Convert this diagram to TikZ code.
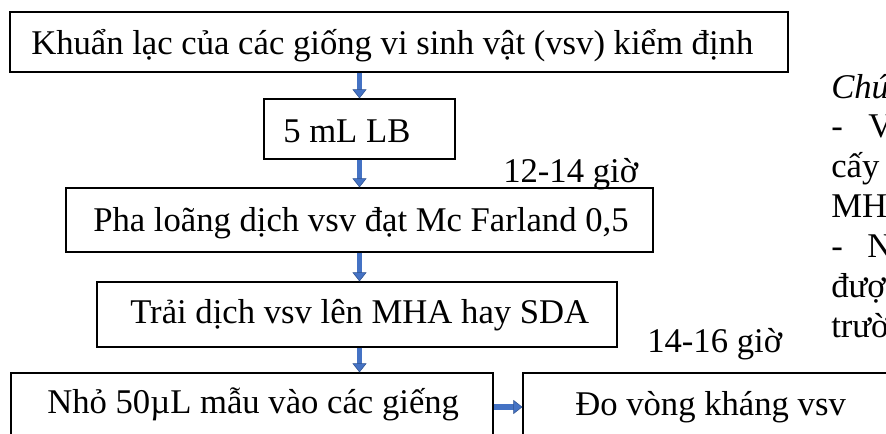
\documentclass[tikz,border=0pt]{standalone}
\usepackage{fontspec}
\setmainfont{Liberation Serif}
\usetikzlibrary{arrows.meta,fit}
\definecolor{arrowblue}{HTML}{4472C4}
\definecolor{arrowedge}{HTML}{2F528F}
\begin{document}
\begin{tikzpicture}[x=0.75pt,y=-0.75pt,
  box/.style={draw=black, line width=0.9pt, inner sep=0pt, rectangle},
  lbl/.style={font=\fontsize{26}{30}\selectfont, inner sep=0pt},
  flowarrow/.style={draw=arrowblue, line width=4.1pt,
    -{Triangle[width=10.5pt,length=6.75pt,fill=arrowblue,color=arrowedge,line width=0.4pt]}}]
\useasboundingbox (0,0) rectangle (886,434);
\clip (0,0) rectangle (886,434);
% boxes
\node[box, fit={(10,12) (788,72)}] (b1) {};
\node[box, fit={(264,99) (455,159)}] (b2) {};
\node[box, fit={(66,188) (653,252)}] (b3) {};
\node[box, fit={(97,282) (617,347)}] (b4) {};
\node[box, fit={(11,373) (493,441)}] (b5) {};
\node[box, fit={(523,373) (905,441)}] (b6) {};
% texts
\node[lbl, anchor=base west] (t1) at (31,55) {Khuẩn lạc của các giống vi sinh vật (vsv) kiểm định};
\node[lbl, anchor=base west] (t2) at (283,143) {5 mL LB};
\node[lbl, anchor=base west] (t3) at (93,232) {Pha loãng dịch vsv đạt Mc Farland 0,5};
\node[lbl, anchor=base west] (t4) at (130,324) {Trải dịch vsv lên MHA hay SDA};
\node[lbl, anchor=base west] (t5) at (47,414) {Nhỏ 50µL mẫu vào các giếng};
\node[lbl, anchor=base west] (t6) at (575,416) {Đo vòng kháng vsv};
\node[lbl, anchor=base west] (l1) at (503,183) {12-14 giờ};
\node[lbl, anchor=base west] (l2) at (647,353) {14-16 giờ};
% note column (clipped at right edge, as in the reference)
\node[lbl, anchor=base west] (n1) at (831,99) {\textit{Chú}};
\node[lbl, anchor=base west] (n2a) at (831,138) {-};
\node[lbl, anchor=base west] (n2b) at (868,138) {V};
\node[lbl, anchor=base west] (n3) at (831,178) {cấy};
\node[lbl, anchor=base west] (n4) at (831,218) {MH};
\node[lbl, anchor=base west] (n5a) at (831,258) {-};
\node[lbl, anchor=base west] (n5b) at (867,258) {N};
\node[lbl, anchor=base west] (n6) at (831,298) {đượ};
\node[lbl, anchor=base west] (n7) at (831,338) {trườ};
% arrows
\draw[flowarrow] (b1.south -| b2.north) -- (b2.north);
\draw[flowarrow] (b2.south) -- (b2.south |- b3.north);
\draw[flowarrow] (b3.south) -- (b3.south |- b4.north);
\draw[flowarrow] (b4.south -| b3.south) -- (b3.south |- b5.north);
\draw[flowarrow] (b5.east) -- (b6.west);
\end{tikzpicture}
\end{document}
